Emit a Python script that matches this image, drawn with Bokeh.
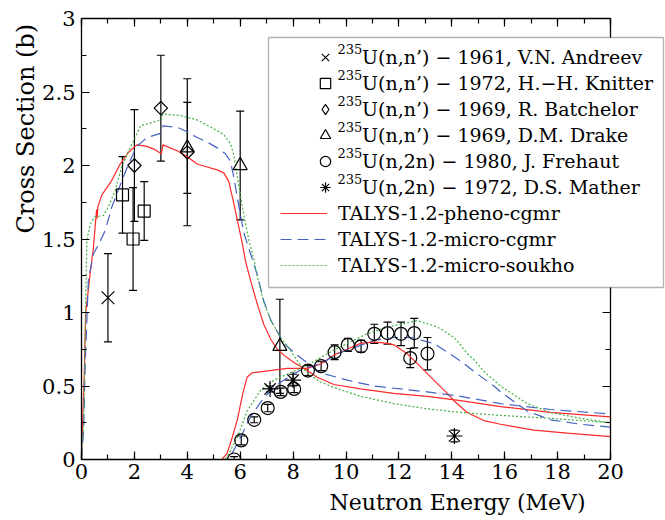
import numpy as np
from bokeh.plotting import figure
from bokeh.models import (ColumnDataSource, Whisker, TeeHead, Legend, LegendItem, Label, Title,
                          LinearAxis, Range1d, SingleIntervalTicker, BoxAnnotation)
from bokeh.embed import file_html
from bokeh.resources import INLINE

FONT = "DejaVu Serif"

# ---------------- data ----------------
# TALYS-1.2-pheno-cgmr
red_nn_E = [0.0, 0.05, 0.1, 0.16, 0.33, 0.45, 0.57, 0.59, 0.62, 0.77, 1.0, 1.15, 1.46, 1.78, 2.09, 2.47, 2.75,
            3.02, 3.08, 3.62, 4.0, 4.37, 4.75, 5.13, 5.38, 5.57, 5.76, 5.89, 6.08, 6.2, 6.39, 6.64, 6.89, 7.15,
            7.4, 7.65, 8.03, 8.4, 8.91, 9.54, 10.55, 11.8, 13.07, 14.33, 15.84, 17.73, 20.0]
red_nn_s = [0.0, 0.3, 0.55, 1.0, 1.27, 1.44, 1.70, 1.64, 1.72, 1.80, 1.86, 1.90, 2.01, 2.09, 2.14, 2.13, 2.11,
            2.08, 2.14, 2.10, 2.06, 2.01, 1.99, 1.97, 1.95, 1.89, 1.74, 1.63, 1.47, 1.35, 1.22, 1.06, 0.92, 0.82,
            0.75, 0.71, 0.66, 0.62, 0.56, 0.51, 0.48, 0.45, 0.43, 0.40, 0.36, 0.32, 0.29]
red_2n_E = [0.0, 5.3, 5.5, 5.7, 5.89, 6.1, 6.26, 6.45, 6.89, 7.78, 8.53, 9.04, 9.54, 10.05, 10.55, 11.05,
            11.56, 11.81, 12.31, 12.82, 13.32, 13.83, 14.08, 14.58, 15.21, 15.84, 17.1, 18.36, 20.0]
red_2n_s = [0.0, 0.0, 0.04, 0.15, 0.27, 0.45, 0.56, 0.59, 0.60, 0.62, 0.62, 0.65, 0.71, 0.75, 0.79, 0.80,
            0.79, 0.78, 0.72, 0.63, 0.54, 0.45, 0.40, 0.32, 0.265, 0.24, 0.20, 0.18, 0.156]

# TALYS-1.2-micro-cgmr
blue_nn_E = [0.0, 0.08, 0.14, 0.26, 0.45, 0.64, 0.9, 1.15, 1.47, 1.78, 2.09, 2.48, 3.02, 3.08, 3.62, 4.0,
             4.37, 4.75, 5.13, 5.44, 5.63, 5.76, 5.95, 6.14, 6.39, 6.64, 6.89, 7.15, 7.65, 8.15, 9.04, 10.05,
             11.05, 12.06, 13.07, 14.33, 15.84, 17.73, 20.0]
blue_nn_s = [0.0, 0.2, 0.65, 1.22, 1.40, 1.46, 1.56, 1.72, 1.87, 2.01, 2.13, 2.19, 2.22, 2.27, 2.26, 2.23,
             2.19, 2.16, 2.12, 2.08, 2.03, 1.92, 1.72, 1.54, 1.40, 1.26, 1.08, 0.95, 0.79, 0.71, 0.59, 0.54,
             0.50, 0.48, 0.46, 0.43, 0.38, 0.34, 0.31]
blue_2n_E = [0.0, 5.5, 5.63, 6.01, 6.39, 6.89, 7.4, 7.9, 8.4, 9.04, 9.67, 10.3, 11.05, 11.81, 12.5, 13.07,
             13.32, 13.83, 14.33, 14.83, 15.59, 15.84, 16.85, 17.73, 18.87, 20.0]
blue_2n_s = [0.0, 0.0, 0.02, 0.15, 0.29, 0.42, 0.51, 0.57, 0.62, 0.65, 0.72, 0.76, 0.81, 0.83, 0.83, 0.80,
             0.79, 0.73, 0.67, 0.60, 0.50, 0.46, 0.33, 0.27, 0.24, 0.22]

# TALYS-1.2-micro-soukho
green_nn_E = [0.0, 0.08, 0.2, 0.33, 0.5, 0.83, 1.02, 1.27, 1.52, 1.78, 1.98, 2.23, 2.61, 3.02, 3.08, 3.74,
              4.37, 5.0, 5.38, 5.63, 5.76, 5.95, 6.14, 6.33, 6.52, 6.64, 6.89, 7.15, 7.52, 7.9, 8.28, 8.53,
              9.0, 9.54, 10.55, 11.81, 13.07, 14.33, 15.84, 17.73, 20.0]
green_nn_s = [0.0, 0.24, 1.49, 1.60, 1.65, 1.66, 1.72, 1.83, 1.99, 2.10, 2.17, 2.27, 2.29, 2.31, 2.35, 2.34,
              2.31, 2.25, 2.21, 2.15, 2.07, 1.86, 1.66, 1.49, 1.36, 1.25, 1.07, 0.95, 0.83, 0.74, 0.64, 0.59,
              0.53, 0.49, 0.43, 0.38, 0.345, 0.32, 0.30, 0.28, 0.25]
green_2n_E = [0.0, 5.4, 5.51, 5.89, 6.26, 6.77, 7.27, 7.78, 8.53, 9.29, 10.05, 10.8, 11.56, 12.31, 12.7,
              13.32, 13.57, 14.08, 14.33, 14.58, 14.83, 15.21, 15.59, 15.84, 16.85, 17.73, 18.87, 20.0]
green_2n_s = [0.0, 0.0, 0.02, 0.15, 0.33, 0.47, 0.54, 0.58, 0.64, 0.72, 0.79, 0.855, 0.90, 0.93, 0.945,
              0.91, 0.89, 0.83, 0.78, 0.72, 0.68, 0.60, 0.54, 0.50, 0.38, 0.32, 0.28, 0.25]

# Experimental data: energy (MeV), cross section (b), uncertainty (b)
andreev_E = [1.0]
andreev_s = [1.1]
andreev_d = [0.3]

knitter_E = [1.55, 1.95, 2.37]
knitter_s = [1.8, 1.5, 1.69]
knitter_d = [0.26, 0.35, 0.2]

batchelor_E = [2.0, 3.0, 4.0]
batchelor_s = [2.0, 2.39, 2.09]
batchelor_d = [0.38, 0.36, 0.5]

drake_E = [4.0, 6.0, 7.5]
drake_s = [2.12, 2.0, 0.77]
drake_d = [0.31, 0.37, 0.32]

frehaut_E = [5.77, 6.04, 6.53, 7.04, 7.53, 8.04, 8.56, 9.06, 9.57, 10.07, 10.57, 11.07, 11.57, 12.08,
             12.43, 12.58, 13.08]
frehaut_s = [0.0, 0.13, 0.27, 0.35, 0.46, 0.48, 0.605, 0.635, 0.73, 0.78, 0.77, 0.855, 0.86, 0.855,
             0.69, 0.86, 0.72]
frehaut_d = [0.02, 0.03, 0.02, 0.025, 0.025, 0.025, 0.035, 0.03, 0.05, 0.045, 0.04, 0.065, 0.075, 0.08,
             0.065, 0.10, 0.11]

mather_E = [7.13, 8.0, 14.1]
mather_s = [0.48, 0.54, 0.16]
mather_d = [0.02, 0.04, 0.04]

x_ticks = [0, 2, 4, 6, 8, 10, 12, 14, 16, 18, 20]
y_ticks = [0, 0.5, 1, 1.5, 2, 2.5, 3]
y_tick_labels = ["0", "0.5", "1", "1.5", "2", "2.5", "3"]

labels_exp = ["U(n,n\u2019) \u2212 1961, V.N. Andreev",
              "U(n,n\u2019) \u2212 1972, H.\u2212H. Knitter",
              "U(n,n\u2019) \u2212 1969, R. Batchelor",
              "U(n,n\u2019) \u2212 1969, D.M. Drake",
              "U(n,2n) \u2212 1980, J. Frehaut",
              "U(n,2n) \u2212 1972, D.S. Mather"]
labels_model = ["TALYS-1.2-pheno-cgmr", "TALYS-1.2-micro-cgmr", "TALYS-1.2-micro-soukho"]

# ---------------- layout (pixels) ----------------
W, H = 665, 520
FX0, FX20, FY0, FYTOP = 81, 610, 459, 18
x_end = 20.0 * (W - FX0) / (FX20 - FX0)   # frame reaches the window edge so the legend box fits

p = figure(width=W, height=H, x_range=Range1d(0, x_end), y_range=Range1d(0, 3),
           output_backend="svg", toolbar_location=None,
           min_border_left=FX0, min_border_right=0, min_border_top=FYTOP, min_border_bottom=H - FY0)
p.grid.visible = False
p.outline_line_color = None
p.background_fill_color = "white"
p.border_fill_color = "white"


def style_axis(ax, ticker, show, ticks=None):
    ax.ticker = ticker
    ax.axis_line_color = "black"
    ax.axis_line_width = 1.3
    ax.major_tick_in = 8
    ax.major_tick_out = 0
    ax.minor_tick_in = 5
    ax.minor_tick_out = 0
    ax.major_tick_line_color = "black"
    ax.minor_tick_line_color = "black"
    ax.major_tick_line_width = 1.2
    ax.minor_tick_line_width = 1.2
    ax.major_label_text_font = FONT
    ax.major_label_text_color = "black"
    ax.major_label_text_font_size = "21px"
    if not show:
        ax.major_label_overrides = {v: "" for v in ticks}
        ax.major_label_standoff = 0


style_axis(p.xaxis[0], SingleIntervalTicker(interval=2, num_minor_ticks=2), True)
p.xaxis[0].bounds = (0, 20)
p.xaxis[0].major_label_standoff = 4
style_axis(p.yaxis[0], SingleIntervalTicker(interval=0.5, num_minor_ticks=2), True)
p.yaxis[0].major_label_standoff = 6
p.yaxis[0].major_label_overrides = {v: t for v, t in zip(y_ticks, y_tick_labels)}

top_ax = LinearAxis(bounds=(0, 20))
style_axis(top_ax, SingleIntervalTicker(interval=2, num_minor_ticks=2), False, x_ticks)
p.add_layout(top_ax, "above")
right_ax = LinearAxis(fixed_location=20)
style_axis(right_ax, SingleIntervalTicker(interval=0.5, num_minor_ticks=2), False, y_ticks)
p.add_layout(right_ax, "right")

p.add_layout(Title(text="Neutron Energy (MeV)", align="left", offset=248, standoff=12,
                   text_font=FONT, text_font_size="22px", text_font_style="normal",
                   text_color="black"), "below")
p.add_layout(Title(text="Cross Section (b)", align="left", offset=226, standoff=0,
                   text_font=FONT, text_font_size="24px", text_font_style="normal",
                   text_color="black"), "left")

RED = "#ff2a2a"
BLUE = "#4463c0"
GREEN = "#44b044"

r_red = p.line(red_nn_E, red_nn_s, line_color=RED, line_width=1.2)
p.line(red_2n_E, red_2n_s, line_color=RED, line_width=1.2)
r_blue = p.line(blue_nn_E, blue_nn_s, line_color=BLUE, line_width=1.2, line_dash="11 6")
p.line(blue_2n_E, blue_2n_s, line_color=BLUE, line_width=1.2, line_dash="11 6")
r_green = p.line(green_nn_E, green_nn_s, line_color=GREEN, line_width=1.2, line_dash="2 2")
p.line(green_2n_E, green_2n_s, line_color=GREEN, line_width=1.2, line_dash="2 2")


def exp_set(E, s, d, marker, size, angle=0.0):
    src = ColumnDataSource(dict(E=E, s=s,
                                hi=[a + b for a, b in zip(s, d)],
                                lo=[a - b for a, b in zip(s, d)]))
    w = Whisker(source=src, base="E", upper="hi", lower="lo", dimension="height",
                line_color="black", line_width=1.2,
                upper_head=TeeHead(size=8, line_color="black", line_width=1.2),
                lower_head=TeeHead(size=8, line_color="black", line_width=1.2))
    p.add_layout(w)
    return p.scatter("E", "s", source=src, marker=marker, size=size, angle=angle,
                     line_color="black", fill_color=None, line_width=1.2), src


r1, _ = exp_set(andreev_E, andreev_s, andreev_d, "x", 18)
r2, _ = exp_set(knitter_E, knitter_s, knitter_d, "square", 12)
r3, s3 = exp_set(batchelor_E, batchelor_s, batchelor_d, "square", 9.5, angle=np.pi / 4)
r4, _ = exp_set(drake_E, drake_s, drake_d, "triangle", 14)
r5, _ = exp_set(frehaut_E, frehaut_s, frehaut_d, "circle", 13)
r6, _ = exp_set(mather_E, mather_s, mather_d, "asterisk", 16)
# hidden twin of the Batchelor set, used only for its diamond legend symbol
r3_leg = p.scatter("E", "s", source=s3, marker="diamond", size=12, line_color="black",
                   fill_color=None, line_width=1.2, visible=False)

# ---------------- legend ----------------
box = BoxAnnotation(left=268 - FX0, right=663 - FX0, top=FY0 - 37, bottom=FY0 - 287,
                    left_units="screen", right_units="screen", top_units="screen", bottom_units="screen",
                    fill_color="white", fill_alpha=1.0, line_color="black", line_width=1.3)
p.add_layout(box)

common = dict(glyph_height=26, label_height=26, spacing=0, padding=0, margin=0,
              label_text_font=FONT, label_text_font_size="19px", label_text_color="black",
              border_line_alpha=0, background_fill_alpha=0, inactive_fill_alpha=0)
leg1 = Legend(items=[LegendItem(label=l, renderers=[r]) for l, r in
                     zip(labels_exp, [r1, r2, r3_leg, r4, r5, r6])],
              location=(312 - FX0, FY0 - 200), glyph_width=26, label_standoff=24, **common)
leg2 = Legend(items=[LegendItem(label=l, renderers=[r]) for l, r in
                     zip(labels_model, [r_red, r_blue, r_green])],
              location=(280 - FX0, FY0 - 278), glyph_width=47, label_standoff=11, **common)
p.add_layout(leg1)
p.add_layout(leg2)

for i in range(6):
    yc = 57 + 26 * i
    p.add_layout(Label(x=337 - FX0, y=FY0 - (yc - 9), x_units="screen", y_units="screen",
                       text="235", text_font=FONT, text_font_size="13px", text_color="black",
                       text_align="left", text_baseline="middle"))

open("out.html", "w").write(file_html(p, INLINE))
